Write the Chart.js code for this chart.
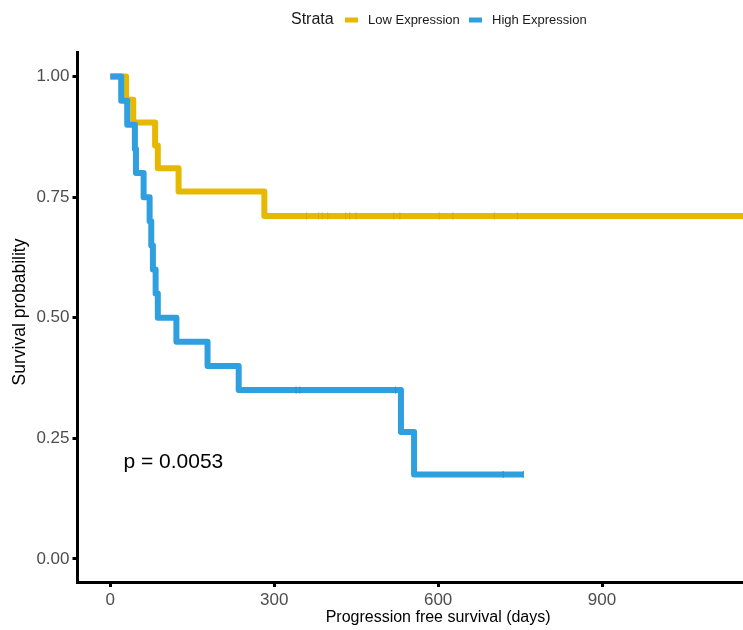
<!DOCTYPE html>
<html>
<head>
<meta charset="utf-8">
<script src="https://cdn.jsdelivr.net/npm/chart.js@4/dist/chart.umd.min.js"></script>
<style>
  html, body { margin: 0; padding: 0; background: #ffffff; }
  #wrap { width: 743px; height: 630px; position: relative; }
  #km { display: block; width: 743px; height: 630px; }
</style>
</head>
<body>
<div id="wrap"><canvas id="km" width="743" height="630"></canvas></div>
<script>
// Kaplan-Meier steps: event times (days) and survival after each step
const lowTimes = [0, 29, 42, 82, 87, 125, 282, 1200];
const lowSurv  = [1.000, 0.952, 0.905, 0.857, 0.810, 0.762, 0.711, 0.711];
const lowCensored = [359, 381, 388, 398, 431, 438, 450, 519, 530, 602, 627, 703, 745];

const highTimes = [0, 20, 31, 45, 47, 61, 72, 75, 78, 83, 87, 121, 178, 235, 532, 556, 756];
const highSurv  = [1.00, 0.95, 0.90, 0.85, 0.80, 0.75, 0.70, 0.65, 0.60, 0.55, 0.50, 0.45, 0.40, 0.35, 0.263, 0.175, 0.175];
const highCensored = [340, 347, 522, 719, 756];

const strataNames = ['Low Expression', 'High Expression'];
const strataColors = ['#E7B800', '#2E9FDF'];
const censorColors = ['#D4A900', '#2590CF'];

const xTicks = [0, 300, 600, 900];
const yTicks = [0, 0.25, 0.5, 0.75, 1];
const yTickLabels = ['0.00', '0.25', '0.50', '0.75', '1.00'];

const pValueText = 'p = 0.0053';
const pValueAt = { x: 24, y: 0.2 };

const FONT = '"Liberation Sans", Arial, Helvetica, sans-serif';

function toPoints(times, surv) {
  return times.map((t, i) => ({ x: t, y: surv[i] }));
}
// survival level of the step curve at time t
function survAt(times, surv, t) {
  let s = surv[0];
  for (let i = 0; i < times.length; i++) { if (times[i] <= t) s = surv[i]; }
  return s;
}
function censorPoints(list, times, surv) {
  return list.map(t => ({ x: t, y: survAt(times, surv, t) }));
}

const stepStyle = (color, order) => ({
  type: 'line',
  stepped: true,
  borderColor: color,
  backgroundColor: color,
  borderWidth: 6,
  borderJoinStyle: 'round',
  borderCapStyle: 'butt',
  pointRadius: 0,
  fill: false,
  order: order
});
const censorStyle = (color, order) => ({
  type: 'scatter',
  showLine: false,
  pointStyle: 'line',
  rotation: 90,
  pointRadius: 3.5,
  pointBorderWidth: 1,
  borderColor: color,
  backgroundColor: color,
  order: order
});

const overlay = {
  id: 'overlay',
  afterDraw(chart) {
    const ctx = chart.ctx;
    const xs = chart.scales.x, ys = chart.scales.y;
    ctx.save();

    // legend
    ctx.textBaseline = 'middle';
    ctx.textAlign = 'left';
    ctx.fillStyle = '#1a1a1a';
    ctx.font = '16px ' + FONT;
    ctx.fillText('Strata', 291, 20);
    ctx.font = '13px ' + FONT;
    const keyX = [345, 469];
    const labelX = [368, 492];
    for (let i = 0; i < 2; i++) {
      ctx.fillStyle = strataColors[i];
      ctx.fillRect(keyX[i], 17.5, 13, 5);
      ctx.fillStyle = '#1a1a1a';
      ctx.fillText(strataNames[i], labelX[i], 20);
    }

    // p-value
    ctx.fillStyle = '#000000';
    ctx.font = '21px ' + FONT;
    ctx.fillText(pValueText, xs.getPixelForValue(pValueAt.x), ys.getPixelForValue(pValueAt.y));

    // axis titles
    ctx.textAlign = 'center';
    ctx.font = '16px ' + FONT;
    ctx.fillText('Progression free survival (days)', xs.getPixelForValue(600), 618);
    ctx.font = '17.5px ' + FONT;
    ctx.translate(20, 312);
    ctx.rotate(-Math.PI / 2);
    ctx.fillText('Survival probability', 0, 0);
    ctx.restore();
  }
};

new Chart(document.getElementById('km'), {
  data: {
    datasets: [
      Object.assign({ label: strataNames[1], data: toPoints(highTimes, highSurv) }, stepStyle(strataColors[1], 1)),
      Object.assign({ label: strataNames[0], data: toPoints(lowTimes, lowSurv) }, stepStyle(strataColors[0], 3)),
      Object.assign({ label: 'censor-high', data: censorPoints(highCensored, highTimes, highSurv) }, censorStyle(censorColors[1], 0)),
      Object.assign({ label: 'censor-low', data: censorPoints(lowCensored, lowTimes, lowSurv) }, censorStyle(censorColors[0], 2))
    ]
  },
  options: {
    responsive: false,
    maintainAspectRatio: false,
    devicePixelRatio: 1,
    animation: false,
    layout: { autoPadding: false, padding: { top: 52.5, left: 0, right: 0, bottom: 0 } },
    plugins: { legend: { display: false }, tooltip: { enabled: false } },
    scales: {
      x: {
        type: 'linear',
        min: -60,
        max: 1158,
        afterBuildTicks: s => { s.ticks = xTicks.map(v => ({ value: v })); },
        afterFit: s => { s.height = 48; s.paddingLeft = 0; s.paddingRight = 0; },
        grid: { display: true, drawOnChartArea: false, drawTicks: true, tickLength: 5, tickWidth: 3, tickColor: '#000000' },
        border: { display: true, color: '#000000', width: 3 },
        ticks: { font: { family: FONT, size: 17 }, color: '#4D4D4D', padding: 3, maxRotation: 0, autoSkip: false }
      },
      y: {
        type: 'linear',
        min: -0.048,
        max: 1.05,
        afterBuildTicks: s => { s.ticks = yTicks.map(v => ({ value: v })); },
        afterFit: s => { s.width = 77.5; s.paddingTop = 0; s.paddingBottom = 0; },
        grid: { display: true, drawOnChartArea: false, drawTicks: true, tickLength: 5, tickWidth: 3, tickColor: '#000000' },
        border: { display: true, color: '#000000', width: 3 },
        ticks: { font: { family: FONT, size: 17 }, color: '#4D4D4D', padding: 3, autoSkip: false,
                 callback: (v, i) => yTickLabels[i] }
      }
    }
  },
  plugins: [overlay]
});
</script>
</body>
</html>
